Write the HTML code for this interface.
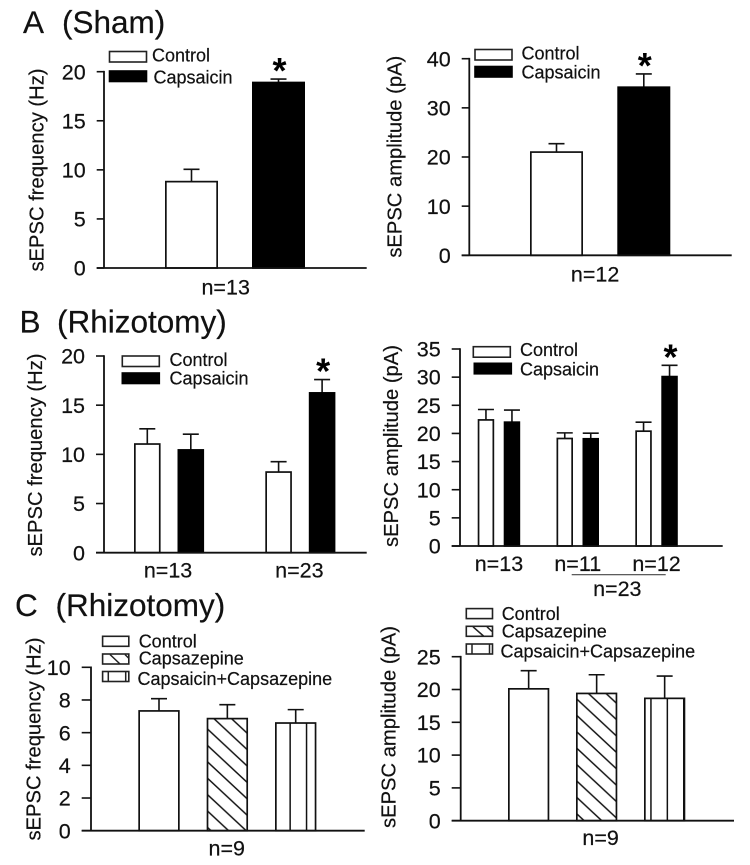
<!DOCTYPE html>
<html lang="en">
<head>
<meta charset="utf-8">
<title>sEPSC frequency and amplitude</title>
<style>
html,body{margin:0;padding:0;background:#fff;width:750px;height:865px;overflow:hidden}
svg{display:block;filter:blur(.3px)}
text{font-family:"Liberation Sans",sans-serif;fill:#111;stroke:#111;stroke-width:.2}
.title{font-size:31.5px}
.legend{font-size:18px}
.ylabel{font-size:20.2px;text-anchor:middle}
.tick{font-size:21.5px;text-anchor:end}
.nlabel{font-size:21.5px;text-anchor:middle}
.star{font-size:36px;font-weight:bold;text-anchor:middle;fill:#000;stroke:none}
.swatch{fill:#fff;stroke:#222;stroke-width:1.6}
.swatch-black{fill:#000;stroke:#000;stroke-width:1.6}
.thin{stroke:#222;stroke-width:1.5;fill:none}
</style>
</head>
<body>
<svg id="fig" width="750" height="865" viewBox="0 0 750 865" xmlns="http://www.w3.org/2000/svg">
<defs>
<pattern id="hatch-left" patternUnits="userSpaceOnUse" x="206.7" y="728.3" width="17.6" height="16.4">
<rect width="17.6" height="16.4" fill="#fff"/>
<path d="M-1 -.93L18.6 17.3M-1 -17.33L18.6 .9M-1 15.47L18.6 33.7" stroke="#111" stroke-width="1.5" fill="none"/>
</pattern>
<pattern id="hatch-right" patternUnits="userSpaceOnUse" x="576" y="698.3" width="17.6" height="16.4">
<rect width="17.6" height="16.4" fill="#fff"/>
<path d="M-1 -.93L18.6 17.3M-1 -17.33L18.6 .9M-1 15.47L18.6 33.7" stroke="#111" stroke-width="1.5" fill="none"/>
</pattern>
<pattern id="stripes" patternUnits="userSpaceOnUse" x="10.6" y="0" width="16.4" height="16.4">
<rect width="16.4" height="16.4" fill="#fff"/>
<path d="M0 0V16.4" stroke="#111" stroke-width="3" fill="none"/>
</pattern>
</defs>
<rect width="750" height="865" fill="#fff"/>

<g>
<text class="title" x="23" y="33">A</text>
<text class="title" x="62" y="33">(Sham)</text>
</g>
<g>
<text class="title" x="19.500" y="332.500">B</text>
<text class="title" x="57" y="332.500">(Rhizotomy)</text>
</g>
<g>
<text class="title" x="15" y="616">C</text>
<text class="title" x="55.500" y="616">(Rhizotomy)</text>
</g>

<text class="ylabel" transform="translate(43.500 170) rotate(-90)">sEPSC frequency (Hz)</text>
<text class="ylabel" transform="translate(401.500 156.700) rotate(-90)">sEPSC amplitude (pA)</text>
<text class="ylabel" transform="translate(42 455) rotate(-90)">sEPSC frequency (Hz)</text>
<text class="ylabel" transform="translate(398 446) rotate(-90)">sEPSC amplitude (pA)</text>
<text class="ylabel" transform="translate(40.700 739) rotate(-90)">sEPSC frequency (Hz)</text>
<text class="ylabel" transform="translate(395.700 727) rotate(-90)">sEPSC amplitude (pA)</text>

<g>
<rect class="swatch" x="109.500" y="51.500" width="37" height="10.500"/>
<text class="legend" x="152" y="61.700">Control</text>
<rect class="swatch-black" x="109.500" y="71" width="37" height="10.500"/>
<text class="legend" x="153.500" y="83.300">Capsaicin</text>
</g>
<g>
<rect class="swatch" x="475" y="49.500" width="37" height="10.500"/>
<text class="legend" x="521.500" y="59.300">Control</text>
<rect class="swatch-black" x="475" y="66.500" width="37" height="10.500"/>
<text class="legend" x="521.500" y="78.300">Capsaicin</text>
</g>
<g>
<rect class="swatch" x="122.300" y="356" width="37" height="10.500"/>
<text class="legend" x="169.500" y="366">Control</text>
<rect class="swatch-black" x="122.300" y="373" width="37" height="10.500"/>
<text class="legend" x="169.500" y="384.300">Capsaicin</text>
</g>
<g>
<rect class="swatch" x="473.300" y="346.700" width="37" height="10.500"/>
<text class="legend" x="520" y="356">Control</text>
<rect class="swatch-black" x="474.300" y="363.300" width="37" height="10.500"/>
<text class="legend" x="520" y="375.300">Capsaicin</text>
</g>
<g>
<rect class="swatch" x="102.600" y="636.300" width="26.200" height="10"/>
<text class="legend" x="138.700" y="647.300">Control</text>
<rect class="swatch" x="102.600" y="654" width="26.200" height="10"/>
<path class="thin" d="M110 654.500L120 664M125 654.500L128.500 658"/>
<text class="legend" x="138.700" y="664.700">Capsazepine</text>
<rect class="swatch" x="102.600" y="671.500" width="26.200" height="10"/>
<path class="thin" d="M108.300 671.500V681.500M125.700 671.500V681.500"/>
<text class="legend" x="137.500" y="685">Capsaicin+Capsazepine</text>
</g>
<g>
<rect class="swatch" x="466.300" y="608.600" width="26.200" height="10"/>
<text class="legend" x="501.700" y="620">Control</text>
<rect class="swatch" x="466.300" y="626.300" width="26.200" height="10"/>
<path class="thin" d="M473 626.800L483.500 636M487 626.800L492 631.500"/>
<text class="legend" x="501.700" y="637.700">Capsazepine</text>
<rect class="swatch" x="466.300" y="644" width="26.200" height="10"/>
<path class="thin" d="M472 644V654M489.500 644V654"/>
<text class="legend" x="500.500" y="657.700">Capsaicin+Capsazepine</text>
</g>

<g>
<line x1="571.700" y1="574.700" x2="665.700" y2="574.700" stroke="#444" stroke-width="1.2"/>
<text class="nlabel" x="617.300" y="596">n=23</text>
</g>
</svg>

<script>
// Panel A, frequency
const aFreqTicks = [0, 5, 10, 15, 20];
const aFreqGroups = ['n=13'];
const aFreqControl = [8.8];
const aFreqControlErr = [1.25];
const aFreqCapsaicin = [18.9];
const aFreqCapsaicinErr = [0.35];
const aFreqStars = [false];
const aFreqCapsaicinStars = [true];

// Panel A, amplitude
const aAmpTicks = [0, 10, 20, 30, 40];
const aAmpGroups = ['n=12'];
const aAmpControl = [21];
const aAmpControlErr = [1.7];
const aAmpCapsaicin = [34.2];
const aAmpCapsaicinErr = [2.7];
const aAmpStars = [false];
const aAmpCapsaicinStars = [true];

// Panel B, frequency
const bFreqTicks = [0, 5, 10, 15, 20];
const bFreqGroups = ['n=13', 'n=23'];
const bFreqControl = [11.05, 8.2];
const bFreqControlErr = [1.55, 1.05];
const bFreqCapsaicin = [10.45, 16.25];
const bFreqCapsaicinErr = [1.6, 1.35];
const bFreqStars = [false, false];
const bFreqCapsaicinStars = [false, true];

// Panel B, amplitude
const bAmpTicks = [0, 5, 10, 15, 20, 25, 30, 35];
const bAmpGroups = ['n=13', 'n=11', 'n=12'];
const bAmpControl = [22.4, 19.1, 20.4];
const bAmpControlErr = [1.85, 1.0, 1.6];
const bAmpCapsaicin = [22, 19.05, 30.1];
const bAmpCapsaicinErr = [2.15, 1.0, 2.0];
const bAmpStars = [false, false, false];
const bAmpCapsaicinStars = [false, false, true];

// Panel C, frequency
const cFreqTicks = [0, 2, 4, 6, 8, 10];
const cFreqGroups = ['n=9'];
const cFreqControl = [7.33];
const cFreqControlErr = [0.75];
const cFreqCapsazepine = [6.86];
const cFreqCapsazepineErr = [0.85];
const cFreqBoth = [6.59];
const cFreqBothErr = [0.82];

// Panel C, amplitude
const cAmpTicks = [0, 5, 10, 15, 20, 25];
const cAmpGroups = ['n=9'];
const cAmpControl = [20.1];
const cAmpControlErr = [2.77];
const cAmpCapsazepine = [19.4];
const cAmpCapsazepineErr = [2.85];
const cAmpBoth = [18.65];
const cAmpBothErr = [3.4];

const NS = 'http://www.w3.org/2000/svg';
const INK = '#111';
const fig = document.getElementById('fig');

function make(tag, parent, attrs) {
  const node = document.createElementNS(NS, tag);
  for (const key in attrs) node.setAttribute(key, attrs[key]);
  parent.appendChild(node);
  return node;
}

function yScale(layout, ticks) {
  const max = ticks[ticks.length - 1];
  return function (v) { return layout.y0 - (v / max) * (layout.y0 - layout.top); };
}

function xScale(layout, groupIndex, seriesIndex) {
  return layout.start + groupIndex * layout.groupStep + seriesIndex * layout.barStep;
}

function drawAxes(layout, ticks, y, parent) {
  const axis = make('g', parent, {});
  
  
  const spine = make('line', axis, { x1: layout.axisX, x2: layout.axisX, y1: layout.top - 0.8, y2: layout.y0, stroke: INK, 'stroke-width': 1.8 });
  
  
  ticks.forEach(function (t) {
    const mark = make('line', axis, { x1: layout.tickX, x2: layout.axisX, y1: y(t), y2: y(t), stroke: INK, 'stroke-width': 1.6 });
    
    
    const label = make('text', axis, { class: 'tick', x: layout.tickX - 11, y: y(t) + 7.6 });
    
    
    label.textContent = String(t);
  });
}

function drawBaseline(layout, parent) {
  const base = make('line', parent, { x1: layout.tickX, x2: layout.right, y1: layout.y0, y2: layout.y0, stroke: INK, 'stroke-width': 1.8 });
  
  
}

function drawSeries(layout, y, parent, s, seriesIndex) {
  s.values.forEach(function (v, g) {
    const x = xScale(layout, g, seriesIndex);
    const cx = x + layout.barWidth / 2;
    const errTop = y(v + s.errors[g]);
    const whisker = make('path', parent, {
      d: 'M' + cx + ' ' + y(v) + 'V' + errTop + 'M' + (cx - 8) + ' ' + errTop + 'H' + (cx + 8),
      stroke: INK, 'stroke-width': 1.6, fill: 'none'
    });
    
    
    const bar = make('rect', parent, {
      x: x + 0.85, y: y(v), width: layout.barWidth - 1.7, height: layout.y0 - y(v),
      fill: s.fill, stroke: s.fill === '#000' ? '#000' : INK, 'stroke-width': 1.7
    });
    
    
    if (s.stars && s.stars[g]) {
      const star = make('text', parent, { class: 'star', x: cx + 1, y: errTop + 4 });
      
      
      star.textContent = '*';
    }
  });
}

function drawGroupLabels(layout, groups, seriesCount, parent) {
  groups.forEach(function (name, g) {
    const first = xScale(layout, g, 0);
    const last = xScale(layout, g, seriesCount - 1) + layout.barWidth;
    const label = make('text', parent, { class: 'nlabel', x: (first + last) / 2 + layout.labelDx, y: layout.labelY });
    
    
    label.textContent = name;
  });
}

function drawChart(chartName, layout, ticks, groups, series) {
  const chart = make('g', fig, {});
  
  
  const y = yScale(layout, ticks);
  drawAxes(layout, ticks, y, chart);
  series.forEach(function (s, i) { drawSeries(layout, y, chart, s, i); });
  drawBaseline(layout, chart);
  drawGroupLabels(layout, groups, series.length, chart);
}

drawChart('a-frequency-chart',
  { axisX: 104, tickX: 96.7, top: 71.7, y0: 268, right: 366.7, start: 165, barWidth: 53, barStep: 87, groupStep: 0, labelDx: -9.3, labelY: 294.5 },
  aFreqTicks, aFreqGroups, [
    { name: 'control', values: aFreqControl, errors: aFreqControlErr, fill: '#fff', stars: aFreqStars },
    { name: 'capsaicin', values: aFreqCapsaicin, errors: aFreqCapsaicinErr, fill: '#000', stars: aFreqCapsaicinStars }
  ]);

drawChart('a-amplitude-chart',
  { axisX: 469.3, tickX: 461.7, top: 58.7, y0: 255.3, right: 731.7, start: 530, barWidth: 53, barStep: 87.3, groupStep: 0, labelDx: -5, labelY: 281.7 },
  aAmpTicks, aAmpGroups, [
    { name: 'control', values: aAmpControl, errors: aAmpControlErr, fill: '#fff', stars: aAmpStars },
    { name: 'capsaicin', values: aAmpCapsaicin, errors: aAmpCapsaicinErr, fill: '#000', stars: aAmpCapsaicinStars }
  ]);

drawChart('b-frequency-chart',
  { axisX: 104, tickX: 96, top: 356, y0: 552.7, right: 366.7, start: 134, barWidth: 26.6, barStep: 43.5, groupStep: 131.3, labelDx: -1, labelY: 577.3 },
  bFreqTicks, bFreqGroups, [
    { name: 'control', values: bFreqControl, errors: bFreqControlErr, fill: '#fff', stars: bFreqStars },
    { name: 'capsaicin', values: bFreqCapsaicin, errors: bFreqCapsaicinErr, fill: '#000', stars: bFreqCapsaicinStars }
  ]);

drawChart('b-amplitude-chart',
  { axisX: 460, tickX: 451.7, top: 349, y0: 546, right: 722.7, start: 477.7, barWidth: 16.5, barStep: 26, groupStep: 78.8, labelDx: 0, labelY: 571.2 },
  bAmpTicks, bAmpGroups, [
    { name: 'control', values: bAmpControl, errors: bAmpControlErr, fill: '#fff', stars: bAmpStars },
    { name: 'capsaicin', values: bAmpCapsaicin, errors: bAmpCapsaicinErr, fill: '#000', stars: bAmpCapsaicinStars }
  ]);

drawChart('c-frequency-chart',
  { axisX: 91, tickX: 81.7, top: 667.3, y0: 830.7, right: 364.7, start: 138.3, barWidth: 41.4, barStep: 68.35, groupStep: 0, labelDx: -0.6, labelY: 855.7 },
  cFreqTicks, cFreqGroups, [
    { name: 'control', values: cFreqControl, errors: cFreqControlErr, fill: '#fff' },
    { name: 'capsazepine', values: cFreqCapsazepine, errors: cFreqCapsazepineErr, fill: 'url(#hatch-left)' },
    { name: 'capsaicin-capsazepine', values: cFreqBoth, errors: cFreqBothErr, fill: 'url(#stripes)' }
  ]);

drawChart('c-amplitude-chart',
  { axisX: 460.7, tickX: 451.7, top: 656.7, y0: 820.7, right: 734, start: 508, barWidth: 41.3, barStep: 68, groupStep: 0, labelDx: 4, labelY: 845 },
  cAmpTicks, cAmpGroups, [
    { name: 'control', values: cAmpControl, errors: cAmpControlErr, fill: '#fff' },
    { name: 'capsazepine', values: cAmpCapsazepine, errors: cAmpCapsazepineErr, fill: 'url(#hatch-right)' },
    { name: 'capsaicin-capsazepine', values: cAmpBoth, errors: cAmpBothErr, fill: 'url(#stripes)' }
  ]);
</script>
</body>
</html>
